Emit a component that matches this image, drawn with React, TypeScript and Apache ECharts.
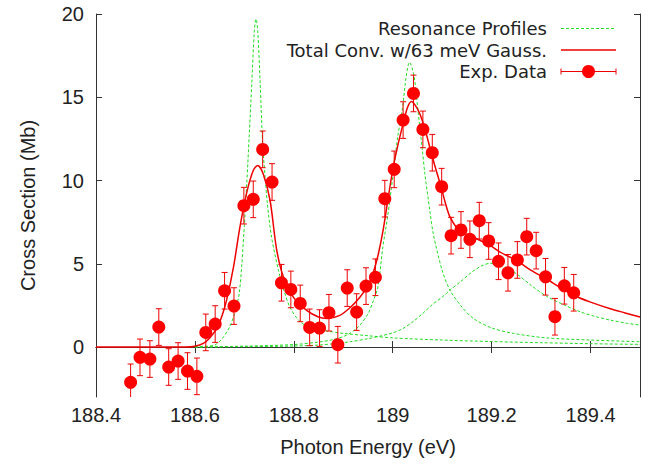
import React, { useEffect, useRef } from "react";
import * as echarts from "echarts";

// Experimental data (photon energy in eV, cross section in Mb, error in Mb)
const energy = [
  188.470, 188.489, 188.509, 188.527, 188.547, 188.566, 188.585, 188.604, 188.622, 188.641,
  188.660, 188.679, 188.699, 188.718, 188.737, 188.756, 188.775, 188.794, 188.813, 188.832,
  188.852, 188.871, 188.889, 188.908, 188.927, 188.946, 188.965, 188.984, 189.003, 189.021,
  189.042, 189.061, 189.080, 189.099, 189.118, 189.138, 189.156, 189.175, 189.194, 189.214,
  189.233, 189.252, 189.271, 189.290, 189.309, 189.328, 189.347, 189.366,
];
const crossSection = [
  -2.12, -0.62, -0.72, 1.2, -1.2, -0.84, -1.44, -1.76, 0.88, 1.38,
  3.38, 2.46, 8.49, 8.87, 11.87, 9.91, 3.86, 3.46, 2.62, 1.18,
  1.14, 2.06, 0.14, 3.54, 2.1, 3.66, 4.19, 8.91, 10.67, 13.63,
  15.23, 13.07, 11.67, 9.63, 6.69, 7.03, 6.47, 7.59, 6.37, 5.15,
  4.46, 5.23, 6.63, 5.79, 4.22, 1.82, 3.68, 3.26,
];
const errorBar = [
  1.1, 1.1, 1.1, 1.1, 1.1, 1.1, 1.1, 1.1, 1.1, 1.1,
  1.1, 1.1, 1.1, 1.1, 1.1, 1.1, 1.1, 1.1, 1.1, 1.1,
  1.1, 1.1, 1.1, 1.1, 1.1, 1.1, 1.1, 1.1, 1.1, 1.1,
  1.1, 1.1, 1.1, 1.1, 1.1, 1.1, 1.1, 1.1, 1.1, 1.1,
  1.1, 1.1, 1.1, 1.1, 1.1, 1.1, 1.1, 1.1,
];

// Total convolved curve [eV, Mb]
const totalConv: [number, number][] = [
  [188.4, 0], [188.5, 0], [188.58, 0], [188.6, 0.05], [188.617, 0.22], [188.63, 0.55],
  [188.644, 1.1], [188.655, 1.9], [188.664, 2.8], [188.678, 4.8], [188.691, 7.2],
  [188.705, 9.3], [188.718, 10.6], [188.727, 10.9], [188.738, 10.4], [188.752, 8.8],
  [188.765, 5.9], [188.779, 4.2], [188.799, 3.0], [188.826, 2.2], [188.85, 1.8],
  [188.867, 1.72], [188.893, 1.9], [188.915, 2.4], [188.934, 3.0], [188.95, 3.7],
  [188.961, 4.5], [188.971, 5.6], [188.981, 7.1], [188.991, 9.0], [189.001, 10.8],
  [189.011, 12.2], [189.021, 13.4], [189.03, 14.4], [189.038, 14.75], [189.046, 14.5],
  [189.055, 14.0], [189.065, 13.1], [189.075, 12.0], [189.085, 10.9], [189.096, 9.8],
  [189.106, 8.7], [189.116, 7.8], [189.136, 6.95], [189.156, 6.7], [189.177, 6.4],
  [189.197, 6.1], [189.217, 5.7], [189.25, 5.2], [189.28, 4.6], [189.31, 4.1],
  [189.34, 3.55], [189.37, 3.05], [189.4, 2.7], [189.44, 2.3], [189.47, 2.05], [189.5, 1.8],
];

// Resonance profiles [eV, Mb]
const profile1: [number, number][] = [
  [188.6, 0], [188.62, 0.04], [188.64, 0.12], [188.655, 0.5], [188.67, 1.2], [188.68, 2.0],
  [188.69, 3.3], [188.7, 7.3], [188.705, 9.9], [188.71, 12.8], [188.715, 15.8], [188.72, 18.9],
  [188.7235, 19.7], [188.727, 19.0], [188.732, 15.8], [188.737, 12.2], [188.742, 10.2],
  [188.7465, 8.6], [188.755, 6.6], [188.769, 4.6], [188.78, 3.4], [188.792, 2.4], [188.81, 1.6],
  [188.83, 1.2], [188.86, 1.0], [188.9, 0.82], [188.95, 0.68], [189.0, 0.55], [189.1, 0.42],
  [189.2, 0.33], [189.3, 0.26], [189.4, 0.2], [189.5, 0.16],
];
const profile2: [number, number][] = [
  [188.6, 0], [188.7, 0.05], [188.8, 0.15], [188.85, 0.3], [188.88, 0.45], [188.907, 0.72],
  [188.93, 1.2], [188.95, 2.0], [188.961, 2.8], [188.97, 3.6], [188.98, 6.0], [188.99, 7.9],
  [189.0, 10.2], [189.01, 12.6], [189.02, 14.4], [189.027, 16.2], [189.034, 17.1],
  [189.043, 16.3], [189.05, 14.5], [189.06, 11.8], [189.065, 10.4], [189.075, 8.2],
  [189.082, 6.8], [189.1, 4.6], [189.116, 3.4], [189.14, 2.4], [189.163, 1.72], [189.2, 1.15],
  [189.244, 0.82], [189.311, 0.55], [189.4, 0.42], [189.5, 0.32],
];
const profile3: [number, number][] = [
  [188.6, 0], [188.7, 0.02], [188.8, 0.06], [188.85, 0.12], [188.88, 0.2], [188.914, 0.32],
  [188.95, 0.5], [188.975, 0.66], [189.0, 0.85], [189.02, 1.1], [189.042, 1.55], [189.06, 2.0],
  [189.08, 2.55], [189.1, 3.0], [189.116, 3.42], [189.14, 4.0], [189.16, 4.5], [189.18, 4.88],
  [189.197, 5.03], [189.215, 4.95], [189.235, 4.7], [189.257, 4.25], [189.28, 3.7],
  [189.311, 3.05], [189.345, 2.55], [189.379, 2.12], [189.41, 1.83], [189.446, 1.58],
  [189.475, 1.42], [189.5, 1.32],
];

const xTicks = [188.4, 188.6, 188.8, 189.0, 189.2, 189.4];
const yTicks = [0, 5, 10, 15, 20];
const legendLabels = ["Resonance Profiles", "Total Conv. w/63 meV Gauss.", "Exp. Data"];

const FONT = "Liberation Sans";
const FS = 20;
const LEGEND_FONT = "DejaVu Sans";
const LEGEND_FS = 18;
const TEXT = "#222";
const AXIS = "#333";
const GREEN = "#22dd22";
const RED = "#ee0000";

export default function App() {
  const ref = useRef<HTMLDivElement>(null);
  useEffect(() => {
    if (!ref.current) return;
    const chart = echarts.init(ref.current, undefined, { renderer: "svg" });
    const fmt = (v: number) => String(+v.toFixed(1));
    const baseX = {
      type: "value",
      min: 188.4,
      max: 189.5,
      axisLine: { show: true, lineStyle: { color: AXIS, width: 1 } },
      axisTick: { show: true, inside: true, length: 6, customValues: xTicks, lineStyle: { color: AXIS } },
      splitLine: { show: false },
    };
    const baseY = {
      type: "value",
      min: -3,
      max: 20,
      axisLine: { show: true, lineStyle: { color: AXIS, width: 1 } },
      axisTick: { show: true, inside: true, length: 6, customValues: yTicks, lineStyle: { color: AXIS } },
      splitLine: { show: false },
    };
    const greenLine = (data: [number, number][], name: string) => ({
      type: "line",
      name,
      data,
      showSymbol: false,
      smooth: 0.3,
      z: 2,
      lineStyle: { color: GREEN, width: 1, type: [3, 2] },
    });
    const legendY = [28.5, 50, 71.5];
    const lx1 = 561, lx2 = 616, tx = 547;
    const option: any = {
      animation: false,
      backgroundColor: "#fff",
      grid: { left: 96, right: 11, top: 14, bottom: 69 },
      xAxis: [
        {
          ...baseX,
          position: "bottom",
          name: "Photon Energy (eV)",
          nameLocation: "middle",
          nameGap: 40,
          nameTextStyle: { fontFamily: FONT, fontSize: FS, color: TEXT },
          axisLabel: {
            customValues: xTicks,
            formatter: fmt,
            margin: 8,
            fontFamily: FONT,
            fontSize: FS,
            color: TEXT,
          },
        },
        { ...baseX, position: "top", axisLabel: { show: false } },
      ],
      yAxis: [
        {
          ...baseY,
          position: "left",
          name: "Cross Section (Mb)",
          nameLocation: "middle",
          nameGap: 58,
          nameTextStyle: { fontFamily: FONT, fontSize: FS, color: TEXT },
          axisLabel: {
            customValues: yTicks,
            margin: 12,
            fontFamily: FONT,
            fontSize: FS,
            color: TEXT,
          },
        },
        { ...baseY, position: "right", axisLabel: { show: false } },
      ],
      series: [
        greenLine(profile1, legendLabels[0]),
        greenLine(profile2, legendLabels[0]),
        greenLine(profile3, legendLabels[0]),
        {
          type: "line",
          name: legendLabels[1],
          data: totalConv,
          showSymbol: false,
          smooth: 0.3,
          z: 3,
          lineStyle: { color: RED, width: 1.5 },
        },
        {
          type: "custom",
          name: legendLabels[2],
          clip: true,
          z: 4,
          data: energy.map((e, i) => [e, crossSection[i], errorBar[i]]),
          encode: { x: 0, y: 1 },
          renderItem: (_p: any, api: any) => {
            const x = api.value(0);
            const y = api.value(1);
            const e = api.value(2);
            const top = api.coord([x, y + e]);
            const bot = api.coord([x, y - e]);
            const hw = 3;
            const st = { stroke: RED, lineWidth: 1 };
            return {
              type: "group",
              children: [
                { type: "line", shape: { x1: top[0], y1: top[1], x2: bot[0], y2: bot[1] }, style: st },
                { type: "line", shape: { x1: top[0] - hw, y1: top[1], x2: top[0] + hw, y2: top[1] }, style: st },
                { type: "line", shape: { x1: bot[0] - hw, y1: bot[1], x2: bot[0] + hw, y2: bot[1] }, style: st },
              ],
            };
          },
        },
        {
          type: "scatter",
          name: legendLabels[2],
          data: energy.map((e, i) => [e, crossSection[i]]),
          symbol: "circle",
          symbolSize: 13,
          z: 5,
          itemStyle: { color: "#ff0000", opacity: 1 },
        },
      ],
      graphic: [
        ...legendLabels.map((t, i) => ({
          type: "text",
          x: tx,
          y: legendY[i],
          style: {
            text: t,
            align: "right",
            verticalAlign: "middle",
            fontFamily: LEGEND_FONT,
            fontSize: LEGEND_FS,
            fill: TEXT,
          },
        })),
        {
          type: "line",
          shape: { x1: lx1, y1: legendY[0], x2: lx2, y2: legendY[0] },
          style: { stroke: GREEN, lineWidth: 1, lineDash: [3, 2] },
        },
        {
          type: "line",
          shape: { x1: lx1, y1: legendY[1], x2: lx2, y2: legendY[1] },
          style: { stroke: RED, lineWidth: 1.5 },
        },
        {
          type: "line",
          shape: { x1: lx1, y1: legendY[2], x2: lx2, y2: legendY[2] },
          style: { stroke: RED, lineWidth: 1 },
        },
        {
          type: "line",
          shape: { x1: lx1, y1: legendY[2] - 3, x2: lx1, y2: legendY[2] + 3 },
          style: { stroke: RED, lineWidth: 1 },
        },
        {
          type: "line",
          shape: { x1: lx2, y1: legendY[2] - 3, x2: lx2, y2: legendY[2] + 3 },
          style: { stroke: RED, lineWidth: 1 },
        },
        {
          type: "circle",
          shape: { cx: (lx1 + lx2) / 2, cy: legendY[2], r: 6.5 },
          style: { fill: "#ff0000" },
        },
      ],
    };
    chart.setOption(option);
    return () => chart.dispose();
  }, []);
  return (
    <div
      ref={ref}
      style={{ position: "fixed", left: 0, top: 0, width: 651, height: 466, background: "#fff" }}
    />
  );
}
